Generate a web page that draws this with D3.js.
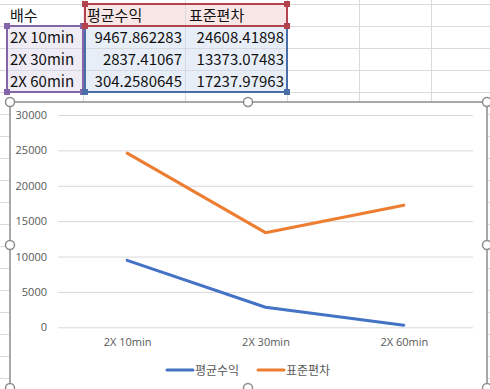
<!DOCTYPE html>
<html><head><meta charset="utf-8">
<script src="https://cdn.jsdelivr.net/npm/d3@7"></script>
<style>
html,body{margin:0;padding:0;background:#fff;}
svg{display:block;}
</style></head>
<body>
<svg id="c" width="490" height="389"></svg>
<script>
// ---- data ----
const categories = ["2X 10min", "2X 30min", "2X 60min"];
const seriesNames = ["평균수익", "표준편차"];
const meanValues = [9467.862283, 2837.41067, 304.2580645];
const stdValues = [24608.41898, 13373.07483, 17237.97963];
const meanLabels = ["9467.862283", "2837.41067", "304.2580645"];
const stdLabels = ["24608.41898", "13373.07483", "17237.97963"];
const headerLabel = "배수";
const yTicks = [0, 5000, 10000, 15000, 20000, 25000, 30000];
const colors = ["#4472C4", "#ED7D31"];

const svg = d3.select("#c");
const W = 490, H = 389;
const FONT_KR = "'Noto Sans CJK KR', 'Noto Sans', sans-serif";
const FONT_UI = "'Segoe UI', 'Open Sans', 'Noto Sans', sans-serif";

// ---- spreadsheet background ----
const colX = [7, 83, 185, 287, 359, 431];
const rowY = [];
for (let y = 4; y < H; y += 22) rowY.push(y);
const grid = svg.append("g").attr("stroke", "#DADADA").attr("stroke-width", 1);
colX.slice(1).forEach(x => grid.append("line").attr("x1", x + 0.5).attr("x2", x + 0.5).attr("y1", 0).attr("y2", H));
rowY.forEach(y => grid.append("line").attr("x1", 0).attr("x2", W).attr("y1", y + 0.5).attr("y2", y + 0.5));

// fills
svg.append("rect").attr("x", 83).attr("y", 4).attr("width", 204).attr("height", 22).attr("fill", "#F9E6E7");
svg.append("rect").attr("x", 83).attr("y", 26).attr("width", 204).attr("height", 66).attr("fill", "#E8EEF8");
svg.append("rect").attr("x", 7).attr("y", 26).attr("width", 76).attr("height", 66).attr("fill", "#EFECF5");
// inner grid lines over fills
const g2 = svg.append("g").attr("stroke", "#D6D9E0").attr("stroke-width", 1);
g2.append("line").attr("x1", 185.5).attr("x2", 185.5).attr("y1", 4).attr("y2", 92);
[48, 70].forEach(y => g2.append("line").attr("x1", 7).attr("x2", 287).attr("y1", y + 0.5).attr("y2", y + 0.5));

// table text
const tText = svg.append("g").attr("font-family", FONT_KR).attr("font-size", 15).attr("fill", "#111");
tText.append("text").attr("x", 10).attr("y", 21).text(headerLabel);
tText.append("text").attr("x", 87).attr("y", 21).text(seriesNames[0]);
tText.append("text").attr("x", 189).attr("y", 21).text(seriesNames[1]);
categories.forEach((c, i) => {
  const y = 43 + i * 22;
  tText.append("text").attr("x", 10).attr("y", y).text(c);
  tText.append("text").attr("x", 182).attr("y", y).attr("text-anchor", "end").text(meanLabels[i]);
  tText.append("text").attr("x", 284).attr("y", y).attr("text-anchor", "end").text(stdLabels[i]);
});

// selection boxes
function selBox(x, y, w, h, col) {
  svg.append("rect").attr("x", x).attr("y", y).attr("width", w).attr("height", h)
    .attr("fill", "none").attr("stroke", col).attr("stroke-width", 2);
  [[x, y], [x + w, y], [x, y + h], [x + w, y + h]].forEach(([cx, cy]) =>
    svg.append("rect").attr("x", cx - 3).attr("y", cy - 3).attr("width", 6).attr("height", 6).attr("fill", col));
}
selBox(7, 26, 76, 66, "#8465A8");
selBox(85, 26, 202, 66, "#4A6FA8");
selBox(85, 4, 202, 22, "#B4434E");

// ---- chart ----
const chart = {x: 10, y: 102, w: 477, h: 287};
svg.append("rect").attr("x", chart.x).attr("y", chart.y).attr("width", chart.w).attr("height", chart.h + 10)
  .attr("fill", "#fff").attr("stroke", "#8C8C8C").attr("stroke-width", 1.5);

const x = d3.scalePoint().domain(categories).range([58, 473]).padding(0.5);
const y = d3.scaleLinear().domain([0, 30000]).range([327.3, 115]);

// gridlines
const yAxis = d3.axisLeft(y).tickValues(yTicks).tickSize(-(473 - 58)).tickFormat(d3.format("d"));
const ya = svg.append("g").attr("transform", "translate(58,0)").call(yAxis);
ya.select(".domain").remove();
ya.selectAll(".tick line").attr("stroke", "#D9D9D9").attr("stroke-width", 1);
ya.selectAll(".tick text").attr("x", -11).attr("fill", "#595959").attr("font-size", 11).attr("font-family", FONT_UI);

const xAxis = d3.axisBottom(x).tickSize(0);
const xa = svg.append("g").attr("transform", "translate(0,327.3)").call(xAxis);
xa.select(".domain").remove();
xa.selectAll(".tick text").attr("dy", 0).attr("y", 19).attr("fill", "#595959").attr("font-size", 11).attr("font-family", FONT_UI);

const line = d3.line().x((d, i) => x(categories[i])).y(d => y(d));
[meanValues, stdValues].forEach((vals, k) => {
  svg.append("path").datum(vals).attr("d", line).attr("fill", "none")
    .attr("stroke", colors[k]).attr("stroke-width", 3).attr("stroke-linejoin", "round").attr("stroke-linecap", "round");
});

// legend
const legX = [167, 258];
seriesNames.forEach((n, k) => {
  svg.append("line").attr("x1", legX[k]).attr("x2", legX[k] + 26).attr("y1", 370).attr("y2", 370)
    .attr("stroke", colors[k]).attr("stroke-width", 3).attr("stroke-linecap", "round");
  svg.append("text").attr("x", legX[k] + 28).attr("y", 374.5).attr("font-family", FONT_KR)
    .attr("font-size", 12).attr("fill", "#595959").text(n);
});

// handles
const hs = [[10, 102], [248, 102], [487, 102], [10, 245], [487, 245], [10, 388], [248, 388], [487, 388]];
hs.forEach(([cx, cy]) => svg.append("circle").attr("cx", cx).attr("cy", cy).attr("r", 4.5)
  .attr("fill", "#fff").attr("stroke", "#8C8C8C").attr("stroke-width", 1.5));
</script>
</body></html>
